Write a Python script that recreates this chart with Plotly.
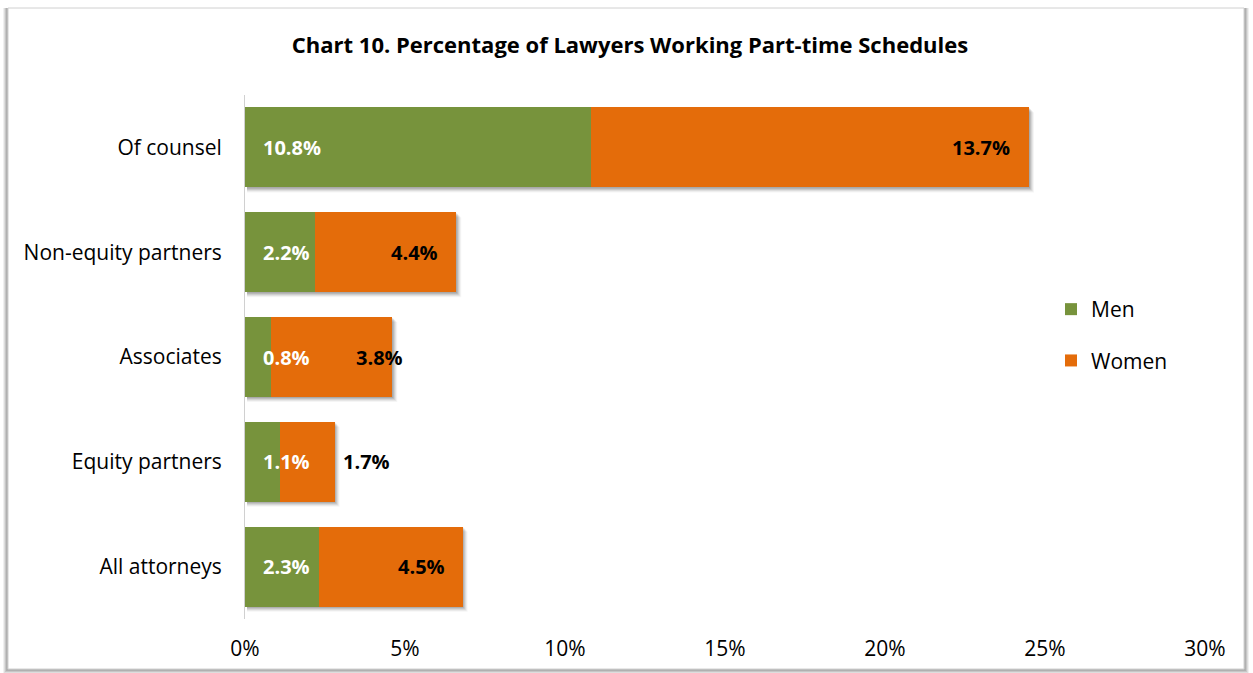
import plotly.graph_objects as go

# ---- data ----
categories = ["Of counsel", "Non-equity partners", "Associates", "Equity partners", "All attorneys"]
men = [10.8, 2.2, 0.8, 1.1, 2.3]
women = [13.7, 4.4, 3.8, 1.7, 4.5]
x_ticks = [0, 5, 10, 15, 20, 25, 30]
x_tick_labels = ["0%", "5%", "10%", "15%", "20%", "25%", "30%"]
title_text = "Chart 10. Percentage of Lawyers Working Part-time Schedules"

# ---- style ----
W, H = 1253, 673
ML, MR, MT, MB = 245, 48, 95, 54
PW, PH = W - ML - MR, H - MT - MB
FONT = "'Open Sans', sans-serif"
GREEN = "#77933C"
ORANGE = "#E46C0A"
BARGAP = 0.236
women_label_shift = [-17, -16, 13, 57, -16]


def pxx(p):
    return (p - ML) / PW


def pxy(p):
    return (H - MB - p) / PH


fig = go.Figure()
fig.add_trace(go.Bar(y=categories, x=men, name="Men", orientation="h",
                     marker=dict(color=GREEN, line=dict(width=0)),
                     legendgroup="m", hoverinfo="x+y"))
fig.add_trace(go.Bar(y=categories, x=women, name="Women", orientation="h",
                     marker=dict(color=ORANGE, line=dict(width=0)),
                     legendgroup="w", hoverinfo="x+y"))

annotations = []
for i, c in enumerate(categories):
    annotations.append(dict(x=0, y=c, xref="x", yref="y", text=f"<b>{men[i]:.1f}%</b>",
                            showarrow=False, xanchor="left", xshift=16,
                            font=dict(family=FONT, size=20, color="white")))
    annotations.append(dict(x=men[i] + women[i], y=c, xref="x", yref="y",
                            text=f"<b>{women[i]:.1f}%</b>",
                            showarrow=False, xanchor="right", xshift=women_label_shift[i],
                            font=dict(family=FONT, size=20, color="black")))

shapes = []
# bar shadows
half = (1 - BARGAP) / 2
px_per_x = PW / 30.0
px_per_cat = PH / len(categories)
for i, c in enumerate(categories):
    tot = men[i] + women[i]
    for k, op in [(1, 0.10), (2, 0.10), (3, 0.08), (4, 0.06), (5, 0.04)]:
        dx = k / px_per_x
        dy = k / px_per_cat
        shapes.append(dict(type="rect", xref="x", yref="y", layer="below",
                           x0=2 / px_per_x, x1=tot + dx,
                           y0=i - half + dy, y1=i + half + dy,
                           fillcolor="black", opacity=op, line=dict(width=0)))

# frame with soft shadow
for k, op in [(0, 0.10), (1, 0.10), (2, 0.08), (3, 0.06)]:
    shapes.append(dict(type="rect", xref="paper", yref="paper", layer="below",
                       x0=pxx(6 - k), x1=pxx(1246 + k), y0=pxy(671 + k), y1=pxy(8),
                       fillcolor="black", opacity=op, line=dict(width=0)))
shapes.append(dict(type="rect", xref="paper", yref="paper", layer="below",
                   x0=pxx(8), x1=pxx(1244), y0=pxy(669), y1=pxy(8),
                   fillcolor="white", line=dict(color="#d0d0d0", width=1)))

fig.update_layout(
    width=W, height=H,
    margin=dict(l=ML, r=MR, t=MT, b=MB, pad=0),
    paper_bgcolor="white", plot_bgcolor="rgba(0,0,0,0)",
    barmode="stack", bargap=BARGAP,
    title=dict(text=f"<b>{title_text}</b>", xref="container", x=630 / W, xanchor="center",
               yref="container", y=1 - 45 / H, yanchor="middle",
               font=dict(family=FONT, size=22, color="black")),
    font=dict(family=FONT, size=21, color="black"),
    xaxis=dict(range=[0, 30], tickvals=x_ticks, ticktext=x_tick_labels,
               showgrid=False, zeroline=False, showline=False, ticks="",
               ticklabelstandoff=15, tickfont=dict(size=21, color="black"), fixedrange=True),
    yaxis=dict(autorange="reversed", showgrid=False, zeroline=False,
               showline=True, linecolor="#d0d0d0", linewidth=1, ticks="",
               ticklabelstandoff=18, tickfont=dict(size=21, color="black"), fixedrange=True),
    legend=dict(x=pxx(1051), y=pxy(289), xanchor="left", yanchor="top",
                traceorder="grouped", tracegroupgap=21,
                font=dict(family=FONT, size=21, color="black"),
                bgcolor="rgba(0,0,0,0)"),
    annotations=annotations,
    shapes=shapes,
)

fig.write_html("out.html", config={"displayModeBar": False},
               post_script="document.body.style.margin='0px';")
